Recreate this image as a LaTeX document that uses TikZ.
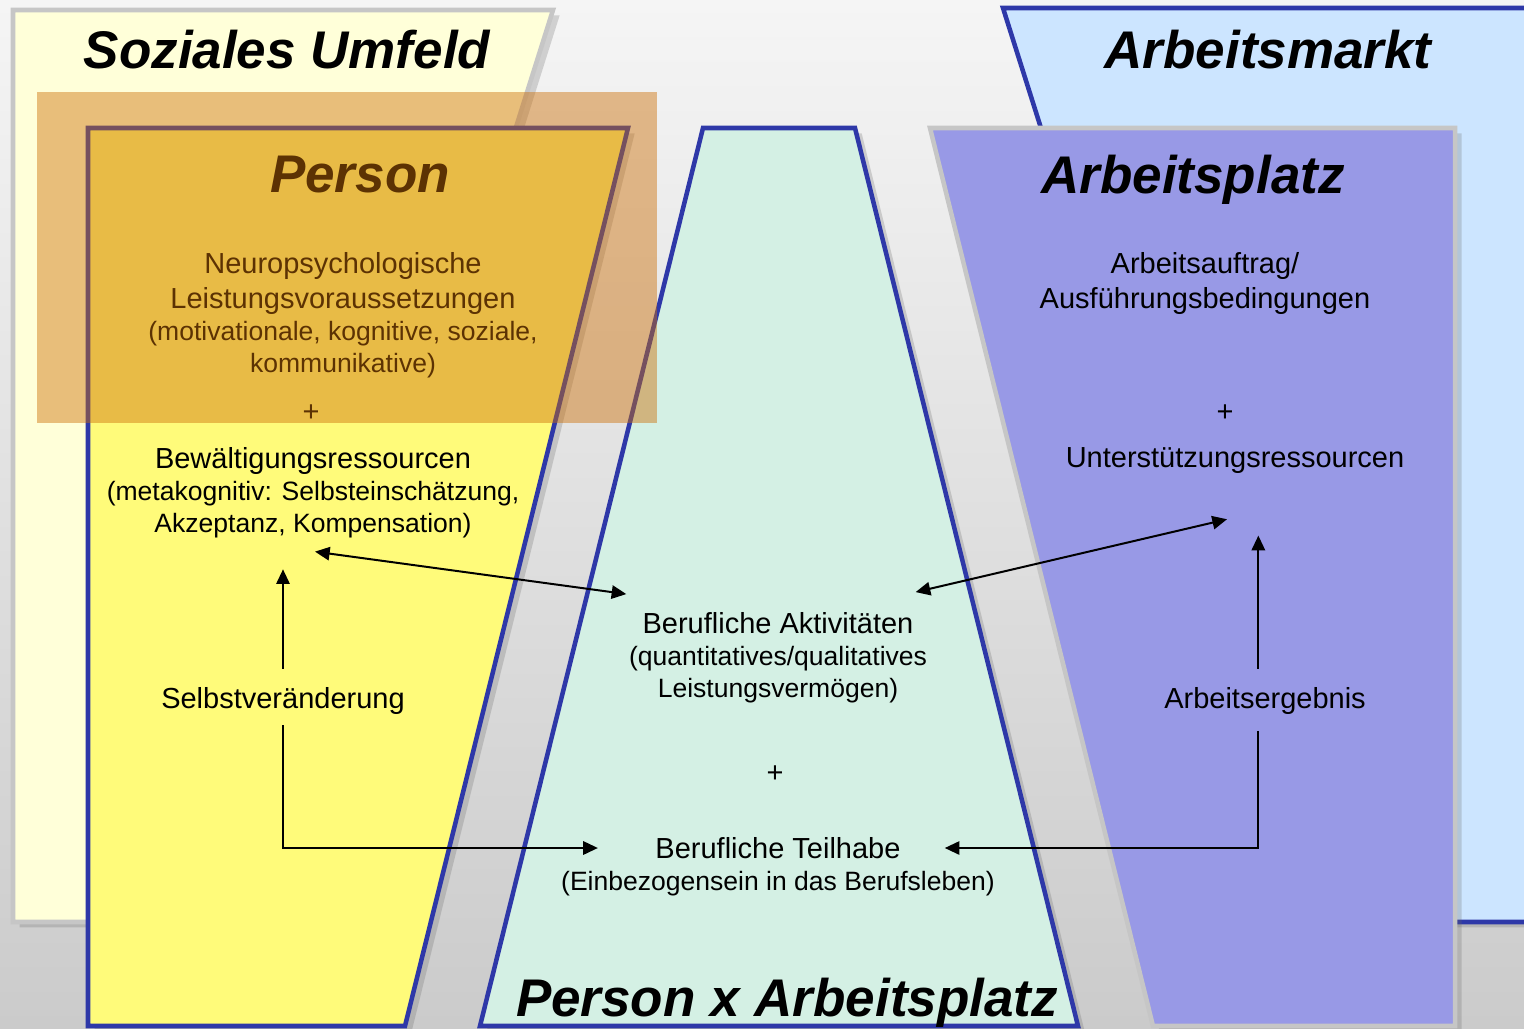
\documentclass[tikz,border=0pt]{standalone}
\usepackage{fontspec}
\setmainfont{Liberation Sans}
\usetikzlibrary{calc,shadows,arrows.meta}

\definecolor{bgoben}{RGB}{245,245,245}
\definecolor{bgunten}{RGB}{203,203,203}

\tikzset{
  rahmen/.style={color={rgb, 255:red, 46; green, 56; blue, 168 }, draw opacity=1, line width=3.4pt, line join=miter},
  grau/.style={color={rgb, 255:red, 198; green, 198; blue, 198 }, draw opacity=1, line width=3.4pt, line join=miter},
  schatten/.style={drop shadow={shadow xshift=5pt, shadow yshift=-4pt, opacity=0.25, fill=black!60}},
  titel/.style={font=\fontsize{39.75}{44}\selectfont\bfseries\itshape, inner sep=0pt},
  txt/.style={font=\fontsize{21.75}{26.25}\selectfont, align=center, inner sep=0pt},
  klein/.style={font=\fontsize{19.9}{24}\selectfont, align=center, inner sep=0pt},
  pfeil/.style={line width=1.5pt, -{Triangle[length=11pt,width=10pt]}},
  doppel/.style={line width=1.5pt, {Triangle[length=11pt,width=10pt]}-{Triangle[length=11pt,width=10pt]}},
}

\begin{document}
\begin{tikzpicture}[x=0.75pt,y=0.75pt,yscale=-1,xscale=1]
\useasboundingbox (0,0) rectangle (1524,1028);

%Shape: Background
\shade [top color=bgoben, bottom color=bgunten] (0,0) rectangle (1524,1028);

%Shape: Soziales Umfeld
\draw [grau, schatten][fill={rgb, 255:red, 255; green, 255; blue, 217 }, fill opacity=1 ] (13,10) -- (553,10) -- (265,922) -- (13,922) -- cycle ;
%Shape: Arbeitsmarkt
\draw [rahmen, schatten][fill={rgb, 255:red, 204; green, 229; blue, 255 }, fill opacity=1 ] (1003,8) -- (1545,8) -- (1545,922) -- (1292,922) -- cycle ;
%Shape: Person
\draw [rahmen, schatten][fill={rgb, 255:red, 255; green, 251; blue, 122 }, fill opacity=1 ] (88,128) -- (628,128) -- (405,1026) -- (88,1026) -- cycle ;
%Shape: Person x Arbeitsplatz
\draw [rahmen, schatten][fill={rgb, 255:red, 212; green, 240; blue, 228 }, fill opacity=1 ] (703,128) -- (855,128) -- (1078,1026) -- (480,1026) -- cycle ;
%Shape: Arbeitsplatz
\draw [grau, schatten][fill={rgb, 255:red, 152; green, 153; blue, 230 }, fill opacity=1 ] (930,128) -- (1455,128) -- (1455,1026) -- (1153,1026) -- cycle ;

% Text Node
\draw (360,175) node (person) [titel] {Person};
% Text Node
\draw (343,283) node (neuro) [txt] {Neuropsychologische\\Leistungsvoraussetzungen};
% Text Node
\draw (343,350) node (neurotxt) [klein] {(motivationale, kognitive, soziale,\\kommunikative)};
% Text Node
\draw (311,413) node (plusa) [txt] {+};

%Shape: Rectangle
\fill [color={rgb, 255:red, 204; green, 111; blue, 7 }, fill opacity=0.45 ] (37,92) -- (657,92) -- (657,423) -- (37,423) -- cycle ;

% Text Node
\draw (287,50) node (umfeld) [titel] {Soziales Umfeld};
% Text Node
\draw (1268,50) node (markt) [titel] {Arbeitsmarkt};
% Text Node
\draw (1193,180) node (platz) [titel] {Arbeitsplatz};
% Text Node
\draw (787,1003) node (pxa) [titel] {Person x Arbeitsplatz};
% Text Node
\draw (313,461) node (bewaelt) [txt] {Bewältigungsressourcen};
% Text Node
\draw (313,510) node (bewaelttxt) [klein] {(metakognitiv: Selbsteinschätzung,\\Akzeptanz, Kompensation)};
% Text Node
\draw (283,701) node (selbst) [txt] {Selbstveränderung};
% Text Node
\draw (778,623) node (aktiv) [txt] {Berufliche Aktivitäten};
% Text Node
\draw (778,675) node (aktivtxt) [klein] {(quantitatives/qualitatives\\Leistungsvermögen)};
% Text Node
\draw (775,774) node (plusb) [txt] {+};
% Text Node
\draw (778,848) node (teilhabe) [txt] {Berufliche Teilhabe};
% Text Node
\draw (778,884) node (teilhabetxt) [klein] {(Einbezogensein in das Berufsleben)};
% Text Node
\draw (1205,283) node (auftrag) [txt] {Arbeitsauftrag/\\Ausführungsbedingungen};
% Text Node
\draw (1225,413) node (plusc) [txt] {+};
% Text Node
\draw (1235,461) node (unterst) [txt] {Unterstützungsressourcen};
% Text Node
\draw (1265,701) node (ergebnis) [txt] {Arbeitsergebnis};

%Straight Lines
\draw [doppel] ($(bewaelttxt.south)+(2,13)$) -- ($(aktiv.north west)+(-16,-18)$) ;
%Straight Lines
\draw [doppel] ($(aktiv.north east)+(2,-20)$) -- ($(unterst.south)+(-8,45)$) ;
%Straight Lines
\draw [pfeil, shorten <=14pt, shorten >=23pt] (selbst.north) -- (selbst.north |- bewaelttxt.south) ;
%Straight Lines
\draw [pfeil, shorten <=8pt, shorten >=43pt] (selbst.south) |- (teilhabe.west) ;
%Straight Lines
\draw [pfeil, shorten <=14pt, shorten >=46pt] ([xshift=-5pt]ergebnis.north) -- ([xshift=-5pt]ergebnis.north |- unterst.south) ;
%Straight Lines
\draw [pfeil, shorten <=12pt, shorten >=33pt] ([xshift=-5pt]ergebnis.south) |- (teilhabe.east) ;

\end{tikzpicture}
\end{document}
